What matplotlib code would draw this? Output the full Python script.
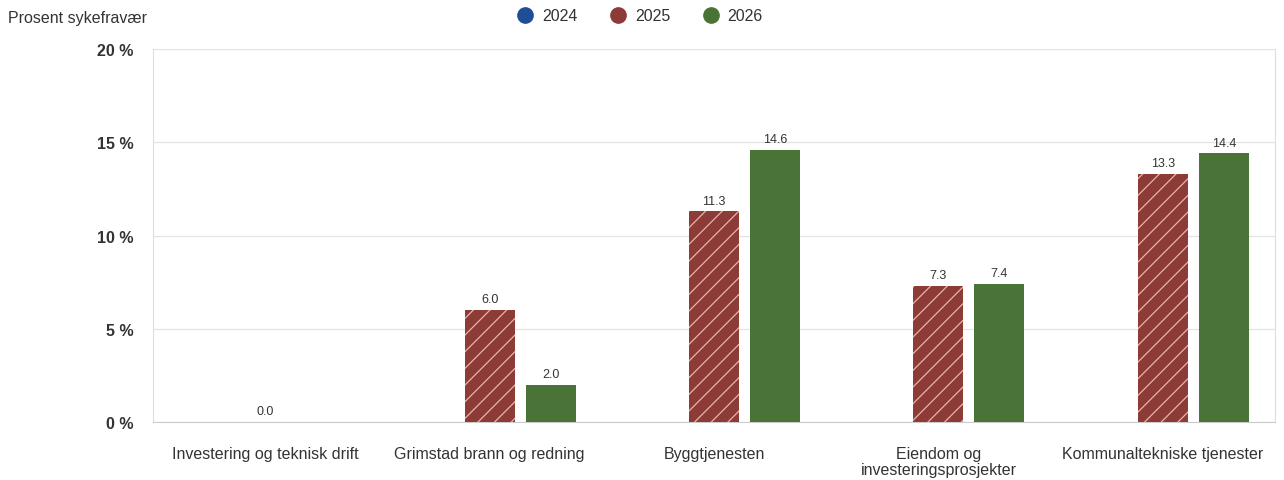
import matplotlib
matplotlib.use('Agg')
import matplotlib.pyplot as plt
from matplotlib.lines import Line2D
import numpy as np

plt.rcParams['font.family'] = ['Liberation Sans', 'DejaVu Sans']
plt.rcParams['hatch.color'] = '#e9b4ac'
plt.rcParams['hatch.linewidth'] = 0.9

categories = ['Investering og teknisk drift', 'Grimstad brann og redning', 'Byggtjenesten',
              'Eiendom og\ninvesteringsprosjekter', 'Kommunaltekniske tjenester']
years = ['2024', '2025', '2026']
v2024 = [np.nan, np.nan, np.nan, np.nan, np.nan]
v2025 = [0.0, 6.0, 11.3, 7.3, 13.3]
v2026 = [np.nan, 2.0, 14.6, 7.4, 14.4]
colors = ['#1f4e96', '#8c3b36', '#4a7337']
hatches = [None, '//', None]
y_ticks = [0, 5, 10, 15, 20]

fig = plt.figure(figsize=(12.84, 4.81), dpi=100)
ax = fig.add_axes([0.1192, 0.1206, 0.8738, 0.7754])

x = np.arange(len(categories))
width = 0.223
offset = 0.272
for i, (vals, col, h) in enumerate(zip([v2024, v2025, v2026], colors, hatches)):
    pos = x + (i - 1) * offset
    ax.bar(pos, vals, width, color=col, hatch=h, edgecolor='#e9b4ac' if h else col,
           linewidth=0, zorder=3)
    for p, v in zip(pos, vals):
        if not np.isnan(v):
            ax.text(p, v + 0.25, f'{v:.1f}', ha='center', va='bottom', fontsize=9, color='#333333')

ax.set_xlim(-0.5, len(categories) - 0.5)
ax.set_ylim(0, 20)
ax.set_yticks(y_ticks)
ax.set_yticklabels([f'{t} %' for t in y_ticks], fontsize=11.5, fontweight='bold', color='#333333')
ax.set_xticks(x)
ax.set_xticklabels(categories, fontsize=11.5, color='#333333', linespacing=1.1)
ax.tick_params(axis='both', length=0)
ax.tick_params(axis='y', pad=14)
ax.tick_params(axis='x', pad=17)
ax.grid(axis='y', color='#e3e3e3', linewidth=0.9, zorder=0)
for s in ['left', 'right']:
    ax.spines[s].set_color('#dddddd')
ax.spines['top'].set_visible(False)
ax.spines['bottom'].set_color('#cccccc')

fig.text(0.006, 0.962, 'Prosent sykefravær', fontsize=11.5, color='#333333', va='center')

handles = [Line2D([0], [0], marker='o', linestyle='', markersize=11, markerfacecolor=c,
                  markeredgecolor=c) for c in colors]
fig.legend(handles, years, loc='center', bbox_to_anchor=(0.497, 0.965), ncol=3, frameon=False,
           fontsize=11.5, handletextpad=0.3, columnspacing=1.8, handlelength=1.5,
           labelcolor='#333333')

fig.savefig('out.png', dpi=100)
